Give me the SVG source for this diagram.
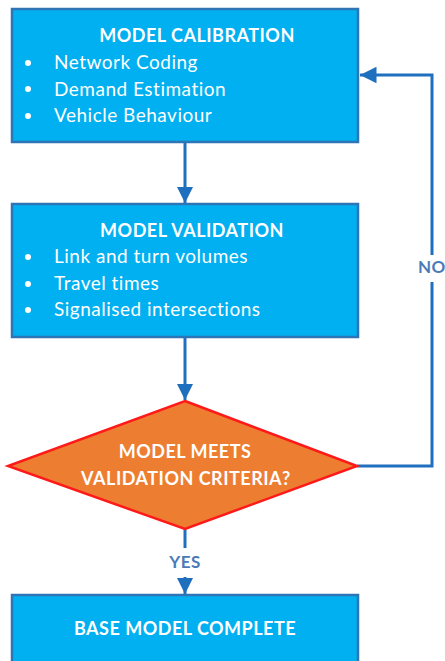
<svg xmlns="http://www.w3.org/2000/svg" width="445" height="661" viewBox="0 0 445 661">
<defs>
<style>
.box{fill:#00B0F0;stroke:#2E75B6;stroke-width:2.5}
.dia{fill:#ED7D31;stroke:#FF1A1A;stroke-width:2.5}
.t{font-family:Lato,"Open Sans","Liberation Sans",sans-serif;fill:#FFFFFF;font-size:19px;letter-spacing:0.5px}
.b{font-weight:bold;font-size:18px}
.c{text-anchor:middle}
.con{fill:none;stroke:#1F6FBF;stroke-width:3}
.lbl{font-family:Lato,"Open Sans","Liberation Sans",sans-serif;font-weight:bold;font-size:17px;letter-spacing:0.5px;fill:#4A7AB8}
</style>
<marker id="ah" viewBox="0 0 10 10" refX="10" refY="5" markerWidth="5.5" markerHeight="5.5" orient="auto" markerUnits="strokeWidth">
<path d="M0,0 L10,5 L0,10 z" fill="#1F6FBF"/>
</marker>
</defs>
<rect width="445" height="661" fill="#FFFFFF"/>
<g id="connectors">
<line class="con" x1="185" y1="142" x2="185" y2="203" marker-end="url(#ah)"/>
<line class="con" x1="185" y1="337" x2="185" y2="400" marker-end="url(#ah)"/>
<line class="con" x1="185" y1="529" x2="185" y2="548"/>
<line class="con" x1="185" y1="577" x2="185" y2="594" marker-end="url(#ah)"/>
<polyline class="con" points="357,466 432,466 432,282"/>
<polyline class="con" points="432,255 432,75 360,75" marker-end="url(#ah)"/>
<text class="lbl" x="418" y="273">NO</text>
<text class="lbl c" x="185" y="568">YES</text>
</g>
<g id="calibration">
<rect class="box" x="12" y="9" width="346" height="133"/>
<text class="t b c" x="197" y="42">MODEL CALIBRATION</text>
<circle cx="28" cy="63" r="3" fill="#FFFFFF"/>
<circle cx="28" cy="89" r="3" fill="#FFFFFF"/>
<circle cx="28" cy="116" r="3" fill="#FFFFFF"/>
<text class="t" x="54" y="69">Network Coding</text>
<text class="t" x="54" y="96">Demand Estimation</text>
<text class="t" x="54" y="122">Vehicle Behaviour</text>
</g>
<g id="validation">
<rect class="box" x="12" y="204" width="346" height="133"/>
<text class="t b c" x="192" y="237">MODEL VALIDATION</text>
<circle cx="28" cy="257" r="3" fill="#FFFFFF"/>
<circle cx="28" cy="284" r="3" fill="#FFFFFF"/>
<circle cx="28" cy="310" r="3" fill="#FFFFFF"/>
<text class="t" x="54" y="263">Link and turn volumes</text>
<text class="t" x="54" y="290">Travel times</text>
<text class="t" x="54" y="316">Signalised intersections</text>
</g>
<g id="decision">
<polygon class="dia" points="185,401 357,466 185,529 8,466"/>
<text class="t b c" x="185" y="458">MODEL MEETS</text>
<text class="t b c" x="186" y="485">VALIDATION CRITERIA?</text>
</g>
<g id="complete">
<rect class="box" x="12" y="595" width="346" height="80"/>
<text class="t b c" x="185" y="635">BASE MODEL COMPLETE</text>
</g>
</svg>
